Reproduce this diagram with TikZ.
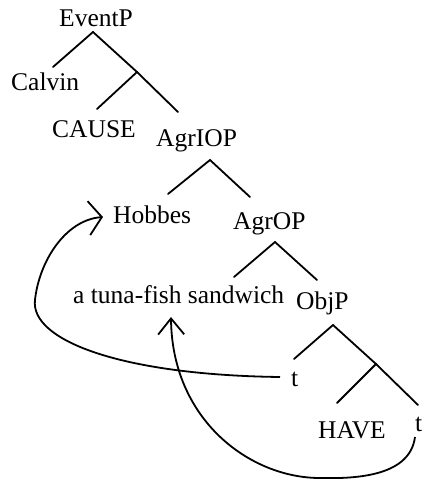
\documentclass[tikz,border=0pt]{standalone}
\usepackage{fontspec}
\setmainfont{Liberation Serif}
\usetikzlibrary{arrows.meta}
\tikzset{
  lbl/.style={anchor=base west, inner sep=0pt, font=\fontsize{25.5}{30}\selectfont},
  branch/.style={line width=1.8pt, line cap=round},
  moveA/.style={line width=1.8pt, -{Straight Barb[length=13pt,width=34pt,line width=1.8pt]}},
  moveB/.style={line width=1.8pt, -{Straight Barb[length=16pt,width=26pt,line width=1.8pt]}}
}
\begin{document}
\begin{tikzpicture}[x=1pt,y=-1pt]
\useasboundingbox (0,0) rectangle (422,479);
% labels
\node[lbl] (EventP) at (59,26) {EventP};
\node[lbl] (Calvin) at (11,90) {Calvin};
\node[lbl] (CAUSE) at (52,137) {CAUSE};
\node[lbl] (AgrIOP) at (156,146) {AgrIOP};
\node[lbl] (Hobbes) at (113,223) {Hobbes};
\node[lbl] (AgrOP) at (233,229) {AgrOP};
\node[lbl] (tuna) at (73,303) {a tuna-fish sandwich};
\node[lbl] (ObjP) at (296,309) {ObjP};
\node[lbl] (t1) at (291,386) {t};
\node[lbl] (HAVE) at (318,438) {HAVE};
\node[lbl] (t2) at (415,431) {t};
% branch points
\coordinate (ev) at (93,32);
\coordinate (evL) at (53,67);
\coordinate (vb) at (137,72);
\coordinate (cau) at (97,109);
\coordinate (agi) at (178,112);
\coordinate (agiT) at (210,160);
\coordinate (hob) at (168,194);
\coordinate (ago) at (250,197);
\coordinate (agoT) at (275,242);
\coordinate (tun) at (234,277);
\coordinate (obj) at (317,280);
\coordinate (objT) at (333,325);
\coordinate (tt1) at (294,359);
\coordinate (vb2) at (376,364);
\coordinate (hav) at (337,403);
\coordinate (tt2) at (418,405);
\draw[branch] (evL) -- (ev) -- (vb);
\draw[branch] (cau) -- (vb) -- (agi);
\draw[branch] (hob) -- (agiT) -- (ago);
\draw[branch] (tun) -- (agoT) -- (obj);
\draw[branch] (tt1) -- (objT) -- (vb2);
\draw[branch] (hav) -- (vb2) -- (tt2);
% movement arrows
\coordinate (aS) at (280,377);
\coordinate (aE) at (103,217);
\coordinate (bS) at (415,437);
\coordinate (bE) at (171,317);
\draw[moveA] (aS) .. controls (120,375) and (30,340) .. (35,300)
  .. controls (39,262) and (65,220) .. (aE);
\draw[moveB] (bS) .. controls (410,475) and (360,479) .. (320,478)
  .. controls (250,478) and (172,420) .. (bE);
\end{tikzpicture}
\end{document}
